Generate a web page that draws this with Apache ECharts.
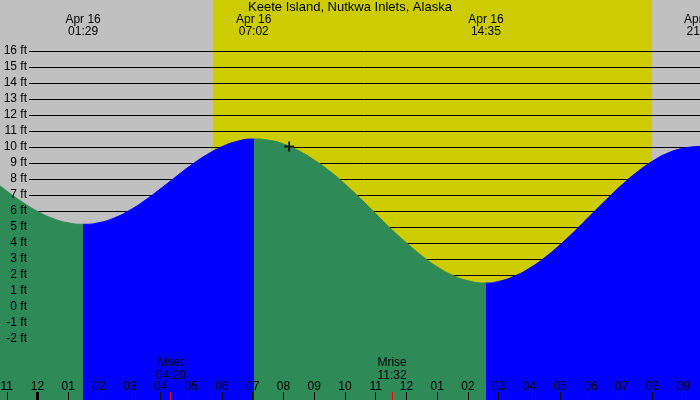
<!DOCTYPE html>
<html><head><meta charset="utf-8">
<script src="https://cdn.jsdelivr.net/npm/echarts@6/dist/echarts.min.js"></script>
<style>html,body{margin:0;padding:0;background:#c0c0c0}#c{width:700px;height:400px}</style>
</head><body><div id="c"></div>
<script>
// ---------- data ----------
const chartTitle = 'Keete Island, Nutkwa Inlets, Alaska';
const dateLabel = 'Apr 16';
const tideTimes = ['01:29', '07:02', '14:35', '21:36'];
const tideFeet = [5.17, 10.5, 1.5, 10.05];
const tideKinds = ['low', 'high', 'low', 'high'];
const curveHours = [-1.5, -1, -0.5, 0, 0.5, 1, 2, 2.5, 3, 3.5, 4, 4.5, 5, 5.5, 6, 6.5, 7,
  7.5, 8, 8.5, 9, 9.5, 10, 10.5, 11, 11.5, 12, 12.5, 13, 13.5, 14,
  15, 15.5, 16, 16.5, 17, 17.5, 18, 18.5, 19, 19.5, 20, 20.5, 21];
const curveFeet = [8.0, 7.25, 6.57, 5.98, 5.53, 5.26, 5.27, 5.57, 6.05, 6.67, 7.39, 8.14, 8.87, 9.51, 10.02, 10.36, 10.5,
  10.43, 10.19, 9.76, 9.18, 8.5, 7.68, 6.78, 5.83, 4.88, 4.01, 3.2, 2.51, 1.98, 1.64,
  1.6, 1.92, 2.42, 3.09, 3.9, 4.8, 5.76, 6.71, 7.62, 8.43, 9.11, 9.62, 9.92];
const sunTimes = ['05:42', '19:59'];
const moonNames = ['Mset', 'Mrise'];
const moonTimes = ['04:20', '11:32'];
const hourTicks = [-1, 0, 1, 2, 3, 4, 5, 6, 7, 8, 9, 10, 11, 12, 13, 14, 15, 16, 17, 18, 19, 20, 21];
const hourLabels = ['11', '12', '01', '02', '03', '04', '05', '06', '07', '08', '09', '10', '11', '12', '01', '02', '03', '04', '05', '06', '07', '08', '09'];
const midnightTicks = [0];
const nowTime = '08:11';
const nowFeet = 10.03;
const feetMin = -2, feetMax = 16;

// ---------- layout / style ----------
const FONT = 'Liberation Sans';
const GRAY = '#c0c0c0', DAY = '#cccc00', FALL = '#2e8b57', RISE = '#0000ff';
const X_MIN = -1.22, X_MAX = 21.547;
const PX_PER_H = 700 / (X_MAX - X_MIN);
const Y_MIN = -5.8125, Y_MAX = 19.1875;

const toH = s => { const p = s.split(':').map(Number); return p[0] + p[1] / 60; };
const nearest = (arr, v) => { let bi = 0; arr.forEach((a, i) => { if (Math.abs(a - v) < Math.abs(arr[bi] - v)) bi = i; }); return bi; };

const tideHours = tideTimes.map(toH);
const moonHours = moonTimes.map(toH);
const pts = curveHours.map((h, i) => [h, curveFeet[i]])
  .concat(tideHours.map((h, i) => [h, tideFeet[i]]))
  .sort((a, b) => a[0] - b[0]);

const pieces = [{ lt: tideHours[0], color: tideKinds[0] === 'low' ? FALL : RISE }];
for (let i = 0; i < tideHours.length; i++) {
  const p = { gte: tideHours[i], color: tideKinds[i] === 'low' ? RISE : FALL };
  if (i + 1 < tideHours.length) p.lt = tideHours[i + 1];
  pieces.push(p);
}

const full = { left: 0, right: 0, top: 0, bottom: 0, outerBoundsMode: 'none', containLabel: false };
const feetGrid = { left: 29, right: 0, top: 51, bottom: 61, outerBoundsMode: 'none', containLabel: false };
const grids = [full, feetGrid, feetGrid, full, full,
  { left: 0, right: -2 * PX_PER_H, top: 0, bottom: 0, outerBoundsMode: 'none', containLabel: false }];

const hiddenX = g => ({ gridIndex: g, type: 'value', min: X_MIN, max: X_MAX, show: false });
const hiddenY = g => ({ gridIndex: g, type: 'value', min: Y_MIN, max: Y_MAX, show: false });
const lbl = { color: '#000', fontSize: 12, fontFamily: FONT };
const noLine = { show: false, onZero: false };

const option = {
  animation: false,
  backgroundColor: GRAY,
  title: { text: chartTitle, left: 'center', top: 1, padding: 0,
    textStyle: { fontSize: 13, fontWeight: 'normal', color: '#000', fontFamily: FONT } },
  grid: grids,
  xAxis: [
    { gridIndex: 0, type: 'value', min: X_MIN, max: X_MAX, position: 'bottom', z: 10,
      axisLine: noLine, splitLine: { show: false },
      axisTick: { show: true, inside: true, length: 8, customValues: hourTicks, lineStyle: { color: '#000', width: 1 } },
      axisLabel: Object.assign({ show: true, inside: true, margin: 7, customValues: hourTicks,
        formatter: v => hourLabels[nearest(hourTicks, v)] }, lbl) },
    hiddenX(1), hiddenX(2),
    { gridIndex: 3, type: 'value', min: X_MIN, max: X_MAX, position: 'bottom', z: 11,
      axisLine: noLine, splitLine: { show: false },
      axisTick: { show: true, inside: true, length: 8, customValues: midnightTicks, lineStyle: { color: '#000', width: 3 } },
      axisLabel: { show: false } },
    { gridIndex: 4, type: 'value', min: X_MIN, max: X_MAX, position: 'bottom', z: 11,
      axisLine: noLine, splitLine: { show: false },
      axisTick: { show: true, inside: true, length: 8, customValues: moonHours, lineStyle: { color: '#ff0000', width: 1 } },
      axisLabel: Object.assign({ show: true, inside: true, margin: 18, lineHeight: 13, customValues: moonHours,
        formatter: v => { const i = nearest(moonHours, v); return moonNames[i] + '\n' + moonTimes[i]; } }, lbl) },
    { gridIndex: 5, type: 'value', min: X_MIN, max: X_MAX + 2, position: 'top', z: 11,
      axisLine: noLine, splitLine: { show: false }, axisTick: { show: false },
      axisLabel: Object.assign({ show: true, inside: true, margin: 14, lineHeight: 12, customValues: tideHours,
        formatter: v => dateLabel + '\n' + tideTimes[nearest(tideHours, v)] }, lbl) }
  ],
  yAxis: [
    hiddenY(0),
    { gridIndex: 1, type: 'value', min: feetMin, max: feetMax, interval: 1, z: 2,
      axisLine: noLine, axisTick: { show: false }, axisLabel: { show: false },
      splitLine: { show: true, lineStyle: { color: '#000', width: 1 } } },
    { gridIndex: 2, type: 'value', min: feetMin, max: feetMax, interval: 1, z: 10, position: 'left',
      axisLine: noLine, axisTick: { show: false }, splitLine: { show: false },
      axisLabel: Object.assign({ show: true, margin: 2, formatter: '{value} ft' }, lbl) },
    hiddenY(3), hiddenY(4), hiddenY(5)
  ],
  visualMap: [{ type: 'piecewise', show: false, dimension: 0, seriesIndex: 1, pieces: pieces }],
  series: [
    { type: 'custom', xAxisIndex: 0, yAxisIndex: 0, z: 1, silent: true,
      data: [[toH(sunTimes[0]), toH(sunTimes[1])]],
      renderItem: (params, api) => {
        const p0 = api.coord([api.value(0), Y_MAX]);
        const p1 = api.coord([api.value(1), Y_MIN]);
        return { type: 'rect', shape: { x: p0[0], y: p0[1], width: p1[0] - p0[0], height: p1[1] - p0[1] },
          style: { fill: DAY } };
      } },
    { type: 'line', xAxisIndex: 0, yAxisIndex: 0, z: 3, silent: true, data: pts, smooth: true,
      showSymbol: false, symbol: 'none', lineStyle: { width: 1 }, areaStyle: { origin: 'start', opacity: 1 } },
    { type: 'scatter', xAxisIndex: 0, yAxisIndex: 0, z: 6, silent: true,
      data: [[toH(nowTime), nowFeet]], symbol: 'path://M0,4H10V6H0Z M4,0H6V10H4Z', symbolSize: 10,
      itemStyle: { color: '#000' } }
  ]
};
const chart = echarts.init(document.getElementById('c'), null, { renderer: 'canvas' });
chart.setOption(option);
</script></body></html>
